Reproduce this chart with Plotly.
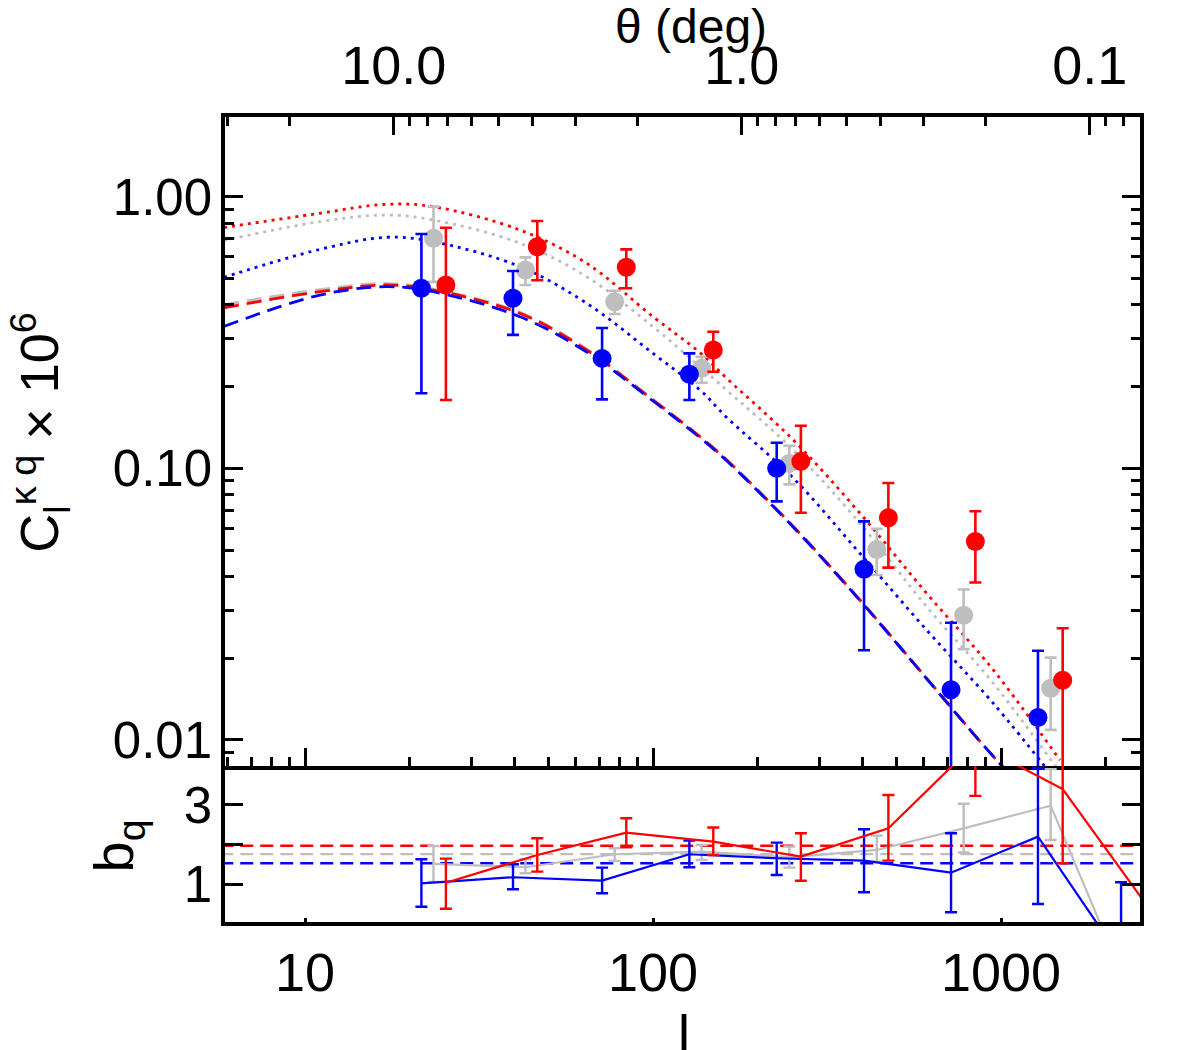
import plotly.graph_objects as go

# ---------------- data ----------------
# multipole of each binned measurement (the three samples are slightly offset)
ell_blue = [21.6, 39.6, 71.4, 127.2, 226.7, 404.0, 718.5, 1277.0]
ell_gray = [23.4, 43.0, 77.6, 138.0, 246.5, 439.5, 781.0, 1389.0]
ell_red = [25.4, 46.5, 83.8, 149.0, 266.0, 474.6, 844.0, 1504.0]

# C_l^{kappa q} x 1e6 : value, upper end, lower end of the error bar
C_blue = [0.460, 0.4225, 0.254, 0.222, 0.100, 0.0425, 0.0153, 0.0121]
C_blue_hi = [0.729, 0.5325, 0.3285, 0.265, 0.1243, 0.0638, 0.0270, 0.0213]
C_blue_lo = [0.189, 0.310, 0.1795, 0.1785, 0.0756, 0.0214, 0.003, 0.003]

C_gray = [0.703, 0.537, 0.4107, 0.2334, 0.1043, 0.0503, 0.0288, 0.0155]
C_gray_hi = [0.919, 0.598, 0.4507, 0.2575, 0.1211, 0.0599, 0.0358, 0.0201]
C_gray_lo = [0.486, 0.473, 0.370, 0.2066, 0.0873, 0.0405, 0.0216, 0.0109]

C_red = [0.473, 0.6545, 0.5496, 0.2726, 0.1061, 0.0658, 0.0538, 0.0166]
C_red_hi = [0.769, 0.8137, 0.640, 0.3184, 0.1435, 0.0883, 0.0695, 0.0258]
C_red_lo = [0.1785, 0.4923, 0.460, 0.2268, 0.0686, 0.0431, 0.0380, 0.003]

# model curves
ell_model = [5.85, 11.04, 17.17, 23.33, 41.48, 64.5, 100.0, 136.5, 162.8,
             253.1, 393.4, 611.6, 950.4, 1477.0]
model_red_dot = [0.77, 0.869, 0.938, 0.919, 0.754, 0.5685, 0.3616, 0.2665,
                 0.2145, 0.1271, 0.0683, 0.03465, 0.0181, 0.00843]
model_gray_dot = [0.69, 0.809, 0.856, 0.821, 0.674, 0.5074, 0.332, 0.2366,
                  0.194, 0.1168, 0.0627, 0.03093, 0.01616, 0.0076]
model_blue_dot = [0.505, 0.640, 0.709, 0.683, 0.5526, 0.405, 0.265, 0.1942,
                  0.154, 0.092, 0.0486, 0.02539, 0.01364, 0.0068]
model_red_dash = [0.39, 0.447, 0.473, 0.4533, 0.372, 0.2726, 0.1785, 0.1307,
                  0.1073, 0.061, 0.03274, 0.01686, 0.0087, 0.0048]
model_gray_dash = [0.40, 0.455, 0.479, 0.457, 0.375, 0.2745, 0.1795, 0.1312,
                   0.1078, 0.0612, 0.0328, 0.0169, 0.0087, 0.0048]
model_blue_dash = [0.333, 0.4345, 0.4663, 0.447, 0.3616, 0.268, 0.177, 0.1297,
                   0.1066, 0.0607, 0.0326, 0.0168, 0.0087, 0.0048]

# bias b_q per bin (lower panel), incl. one extra bin at the highest ell
ell_b_blue = ell_blue + [2213.0]
b_blue = [1.025, 1.177, 1.091, 1.757, 1.656, 1.595, 1.293, 2.20, -0.87]
b_blue_hi = [1.63, 1.504, 1.42, 2.10, 2.05, 2.387, 2.286, 3.93, 1.05]
b_blue_lo = [0.435, 0.874, 0.773, 1.429, 1.235, 0.80, 0.294, 0.503, -2.79]

ell_b_gray = ell_gray + [2393.0]
b_gray = [1.512, 1.429, 1.757, 1.822, 1.68, 1.865, 2.41, 2.98, -1.94]
b_gray_hi = [1.966, 1.63, 1.908, 1.99, 1.95, 2.226, 3.03, 3.90, -1.94]
b_gray_lo = [1.06, 1.277, 1.588, 1.61, 1.42, 1.57, 1.80, 2.117, -1.94]

ell_b_red = ell_red + [2680.0]
b_red = [1.04, 1.739, 2.30, 2.074, 1.696, 2.41, 4.55, 3.40, 0.36]
b_red_hi = [1.646, 2.16, 2.665, 2.43, 2.286, 3.25, 5.87, 5.27, 0.36]
b_red_lo = [0.385, 1.318, 1.933, 1.739, 1.09, 1.595, 3.227, 1.53, 0.36]

# best-fit constant biases
ell_fit = [5.0, 3000.0]
bfit_red = 1.97
bfit_gray = 1.76
bfit_blue = 1.53

# tick labels
l_ticks = [10, 100, 1000]
l_ticktext = ["10", "100", "1000"]
theta_ticks = [10, 1, 0.1]
theta_ticktext = ["10.0", "1.0", "0.1"]
C_ticks = [0.01, 0.1, 1]
C_ticktext = ["0.01", "0.10", "1.00"]
b_ticks = [1, 2, 3]
b_ticktext = ["1", "", "3"]

# ---------------- styling ----------------
RED = "#FF0000"
BLUE = "#0000FF"
GRAY = "#BEBEBE"
FONT = "Liberation Sans, Arial, Helvetica, sans-serif"

X_RANGE = [0.7701, 3.3994]          # log10(l)
THETA_RANGE = [1.4852, -1.1441]     # log10(theta deg), theta = 180/l
Y_RANGE = [-2.0957, 0.2934]         # log10(C)
B_RANGE = [0.05, 3.98]
SPLIT = 0.1938

fig = go.Figure()

# model curves
DOT = "3px,5px"
DASH = "15px,8px"
for vals, col, dash in [
    (model_gray_dot, GRAY, DOT),
    (model_red_dot, RED, DOT),
    (model_blue_dot, BLUE, DOT),
    (model_gray_dash, GRAY, DASH),
    (model_red_dash, RED, DASH),
    (model_blue_dash, BLUE, DASH),
]:
    fig.add_trace(go.Scatter(
        x=ell_model, y=vals, mode="lines", xaxis="x", yaxis="y",
        line=dict(color=col, width=2.8, dash=dash, shape="spline"),
        hoverinfo="skip", showlegend=False))


def err(v, hi, lo):
    return ([h - a for a, h in zip(v, hi)], [a - l for a, l in zip(v, lo)])


for ell, v, hi, lo, col in [
    (ell_gray, C_gray, C_gray_hi, C_gray_lo, GRAY),
    (ell_blue, C_blue, C_blue_hi, C_blue_lo, BLUE),
    (ell_red, C_red, C_red_hi, C_red_lo, RED),
]:
    up, dn = err(v, hi, lo)
    fig.add_trace(go.Scatter(
        x=ell, y=v, mode="markers", xaxis="x", yaxis="y",
        marker=dict(size=19, color=col, line=dict(width=0)),
        error_y=dict(type="data", symmetric=False, array=up, arrayminus=dn,
                     color=col, thickness=2.6, width=6),
        showlegend=False))

# invisible trace so the top theta axis (theta = 180/l) gets drawn
fig.add_trace(go.Scatter(
    x=theta_ticks, y=C_ticks, mode="markers", xaxis="x3", yaxis="y",
    marker=dict(size=1, opacity=0), hoverinfo="skip", showlegend=False))

# lower panel
for bf, col in [(bfit_gray, GRAY), (bfit_red, RED), (bfit_blue, BLUE)]:
    fig.add_trace(go.Scatter(
        x=ell_fit, y=[bf, bf], mode="lines", xaxis="x2", yaxis="y2",
        line=dict(color=col, width=2.4, dash="13px,7px"),
        hoverinfo="skip", showlegend=False))

for ell, v, hi, lo, col in [
    (ell_b_gray, b_gray, b_gray_hi, b_gray_lo, GRAY),
    (ell_b_blue, b_blue, b_blue_hi, b_blue_lo, BLUE),
    (ell_b_red, b_red, b_red_hi, b_red_lo, RED),
]:
    up, dn = err(v, hi, lo)
    fig.add_trace(go.Scatter(
        x=ell, y=v, mode="lines", xaxis="x2", yaxis="y2",
        line=dict(color=col, width=2.2),
        error_y=dict(type="data", symmetric=False, array=up, arrayminus=dn,
                     color=col, thickness=2.4, width=6),
        showlegend=False))

minor_l = [6, 7, 8, 9] + [k * 10 for k in range(2, 10)] + \
    [k * 100 for k in range(2, 10)] + [2000]
minor_theta = [20, 30] + list(range(2, 10)) + [k / 10 for k in range(2, 10)] + [0.08, 0.09]
minor_C = [0.009] + [k / 100 for k in range(2, 10)] + [k / 10 for k in range(2, 10)]

axis_common = dict(showline=True, linecolor="black", linewidth=3.5,
                   showgrid=False, zeroline=False, ticks="inside",
                   tickcolor="black", tickwidth=3)

fig.update_layout(
    width=1200, height=1050,
    margin=dict(l=225, r=60, t=117, b=128),
    paper_bgcolor="white", plot_bgcolor="white", showlegend=False,
    font=dict(family=FONT, color="black"),
    xaxis=dict(type="log", range=X_RANGE, domain=[0, 1], anchor="y",
               mirror=False, ticklen=18, tickvals=l_ticks,
               showticklabels=False,
               minor=dict(tickvals=minor_l, ticks="inside", ticklen=9,
                          tickwidth=3, tickcolor="black", showgrid=False),
               **axis_common),
    xaxis3=dict(type="log", range=THETA_RANGE, overlaying="x", anchor="y",
                side="top", ticklen=18, tickvals=theta_ticks,
                ticktext=theta_ticktext, tickfont=dict(size=54, family=FONT),
                ticklabelstandoff=8,
                minor=dict(tickvals=minor_theta, ticks="inside", ticklen=9,
                           tickwidth=3, tickcolor="black", showgrid=False),
                **axis_common),
    yaxis=dict(type="log", range=Y_RANGE, domain=[SPLIT, 1], anchor="x",
               mirror="ticks", ticklen=18, tickvals=C_ticks,
               ticktext=C_ticktext, tickfont=dict(size=51, family=FONT),
               ticklabelstandoff=-1,
               minor=dict(tickvals=minor_C, ticks="inside", ticklen=9,
                          tickwidth=3, tickcolor="black", showgrid=False),
               **axis_common),
    xaxis2=dict(type="log", range=X_RANGE, domain=[0, 1], anchor="y2",
                mirror=False, ticklen=4, tickvals=l_ticks,
                ticktext=l_ticktext, tickfont=dict(size=54, family=FONT),
                ticklabelstandoff=0, **axis_common),
    yaxis2=dict(range=B_RANGE, domain=[0, SPLIT], anchor="x2",
                mirror="ticks", ticklen=18, tickvals=b_ticks,
                ticktext=b_ticktext, tickfont=dict(size=51, family=FONT),
                ticklabelstandoff=-1, **axis_common),
    annotations=[
        dict(text="θ (deg)", xref="paper", yref="paper", x=0.5089, y=1.1125,
             xanchor="center", yanchor="middle", showarrow=False,
             font=dict(size=48, family=FONT)),
        dict(text="l", xref="paper", yref="paper", x=0.5016, y=-0.0994,
             xanchor="center", yanchor="top", showarrow=False,
             font=dict(size=54, family=FONT)),
        dict(text="C<sub>l</sub><sup>κ q</sup> × 10<sup>6</sup>", xref="paper",
             yref="paper", x=-0.2025, y=0.6075, xanchor="center",
             yanchor="middle", textangle=-90, showarrow=False,
             font=dict(size=54, family=FONT)),
        dict(text="b<sub>q</sub>", xref="paper", yref="paper", x=-0.1175,
             y=0.0944, xanchor="center", yanchor="middle", textangle=-90,
             showarrow=False, font=dict(size=56, family=FONT)),
    ],
)

fig.write_html("out.html")
